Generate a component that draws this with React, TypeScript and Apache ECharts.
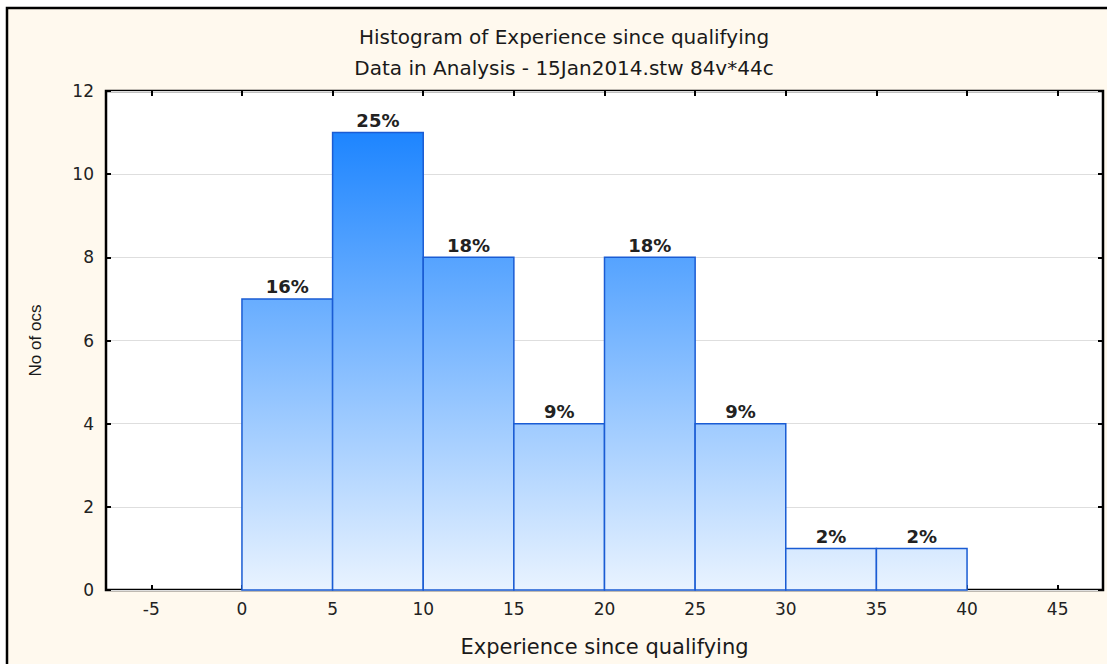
import React, { useEffect, useRef } from "react";
import * as echarts from "echarts";

const TITLE = "Histogram of Experience since qualifying";
const SUBTITLE = "Data in Analysis - 15Jan2014.stw 84v*44c";
const X_NAME = "Experience since qualifying";
const Y_NAME = "No of ocs";

const binStarts = [0, 5, 10, 15, 20, 25, 30, 35];
const binEnds = [5, 10, 15, 20, 25, 30, 35, 40];
const counts = [7, 11, 8, 4, 8, 4, 1, 1];
const xTickValues = [-5, 0, 5, 10, 15, 20, 25, 30, 35, 40, 45];

const FONT = "'DejaVu Sans', Verdana, sans-serif";
const FONT2 = "'Liberation Sans', Arial, sans-serif";

export default function App() {
  const ref = useRef<HTMLDivElement>(null);

  useEffect(() => {
    if (!ref.current) return;
    const chart = echarts.init(ref.current, null, { renderer: "svg" });
    const total = counts.reduce((a, b) => a + b, 0);
    const data = binStarts.map((s, i) => [s, binEnds[i], counts[i]]);

    const tick = {
      show: true,
      inside: true,
      length: 5,
      lineStyle: { color: "#000", width: 2 },
    };

    const option: any = {
      animation: false,
      backgroundColor: "#ffffff",
      textStyle: { fontFamily: FONT },
      graphic: [
        {
          type: "rect",
          z: -10,
          silent: true,
          shape: { x: 7, y: 8, width: 1130, height: 700 },
          style: { fill: "#fff9ee", stroke: "#000", lineWidth: 2.5 },
        },
        {
          type: "text",
          x: 564,
          y: 37,
          style: {
            text: TITLE,
            align: "center",
            verticalAlign: "middle",
            font: `20px ${FONT}`,
            fill: "#1a1a1a",
          },
        },
        {
          type: "text",
          x: 564,
          y: 68,
          style: {
            text: SUBTITLE,
            align: "center",
            verticalAlign: "middle",
            font: `20px ${FONT}`,
            fill: "#1a1a1a",
          },
        },
      ],
      grid: {
        left: 106,
        top: 91,
        right: 4,
        bottom: 74,
        show: true,
        backgroundColor: "#ffffff",
        borderColor: "#000",
        borderWidth: 2.5,
      },
      xAxis: [
        {
          type: "value",
          min: -7.5,
          max: 47.5,
          position: "bottom",
          name: X_NAME,
          nameLocation: "middle",
          nameGap: 46,
          nameTextStyle: { fontSize: 21, color: "#1a1a1a", fontFamily: FONT },
          axisLine: { show: false, onZero: false },
          splitLine: { show: false },
          axisTick: { ...tick, customValues: xTickValues },
          axisLabel: {
            customValues: xTickValues,
            fontSize: 17,
            color: "#222",
            margin: 10,
            fontFamily: FONT,
          },
        },
        {
          type: "value",
          min: -7.5,
          max: 47.5,
          position: "top",
          axisLine: { show: false, onZero: false },
          splitLine: { show: false },
          axisTick: { ...tick, customValues: xTickValues },
          axisLabel: { show: false, customValues: xTickValues },
        },
      ],
      yAxis: [
        {
          type: "value",
          min: 0,
          max: 12,
          interval: 2,
          position: "left",
          name: Y_NAME,
          nameLocation: "middle",
          nameGap: 62,
          nameRotate: 90,
          nameTextStyle: { fontSize: 17, color: "#1a1a1a", fontFamily: FONT2 },
          axisLine: { show: false, onZero: false },
          axisTick: tick,
          axisLabel: { fontSize: 17, color: "#222", margin: 12, fontFamily: FONT },
          splitLine: { show: true, lineStyle: { color: "#dedede", width: 1 } },
        },
        {
          type: "value",
          min: 0,
          max: 12,
          interval: 2,
          position: "right",
          axisLine: { show: false, onZero: false },
          axisTick: tick,
          axisLabel: { show: false },
          splitLine: { show: false },
        },
      ],
      series: [
        {
          type: "custom",
          xAxisIndex: 0,
          yAxisIndex: 0,
          data,
          encode: { x: [0, 1], y: 2 },
          renderItem: (params: any, api: any) => {
            const s = api.value(0);
            const e = api.value(1);
            const c = api.value(2);
            const p0 = api.coord([s, c]);
            const p1 = api.coord([e, 0]);
            const top = api.coord([0, 12])[1];
            const bottom = api.coord([0, 0])[1];
            const pct = Math.round((c / total) * 100);
            return {
              type: "group",
              children: [
                {
                  type: "rect",
                  shape: {
                    x: p0[0],
                    y: p0[1],
                    width: p1[0] - p0[0],
                    height: p1[1] - p0[1],
                  },
                  style: {
                    fill: new echarts.graphic.LinearGradient(
                      0,
                      top,
                      0,
                      bottom,
                      [
                        { offset: 0, color: "#0b7bff" },
                        { offset: 1, color: "#e9f3ff" },
                      ],
                      true
                    ),
                    stroke: "#1a5cd4",
                    lineWidth: 1.5,
                  },
                },
                {
                  type: "text",
                  x: (p0[0] + p1[0]) / 2,
                  y: p0[1] - 3,
                  style: {
                    text: pct + "%",
                    align: "center",
                    verticalAlign: "bottom",
                    font: `bold 18px ${FONT}`,
                    fill: "#222",
                  },
                },
              ],
            };
          },
        },
      ],
    };

    chart.setOption(option);
    return () => chart.dispose();
  }, []);

  return (
    <div
      ref={ref}
      style={{ position: "fixed", left: 0, top: 0, width: 1107, height: 664 }}
    />
  );
}
